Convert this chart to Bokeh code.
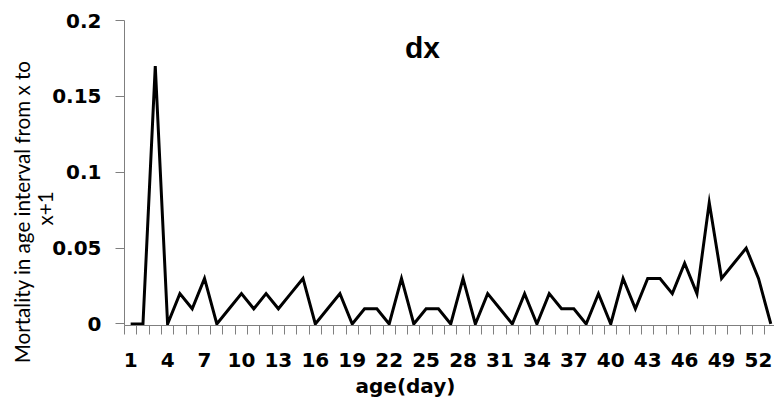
from bokeh.plotting import figure
from bokeh.models import FixedTicker, Label, Range1d, Title
from bokeh.embed import file_html
from bokeh.resources import INLINE

# ---- data ----
days = list(range(1, 54))
dx = [0, 0, 0.17, 0, 0.02, 0.01, 0.03, 0, 0.01, 0.02, 0.01, 0.02, 0.01, 0.02, 0.03,
      0, 0.01, 0.02, 0, 0.01, 0.01, 0, 0.03, 0, 0.01, 0.01, 0, 0.03, 0, 0.02,
      0.01, 0, 0.02, 0, 0.02, 0.01, 0.01, 0, 0.02, 0, 0.03, 0.01, 0.03, 0.03,
      0.02, 0.04, 0.02, 0.08, 0.03, 0.04, 0.05, 0.03, 0]
x_tick_days = [1, 4, 7, 10, 13, 16, 19, 22, 25, 28, 31, 34, 37, 40, 43, 46, 49, 52]
y_ticks = [0, 0.05, 0.1, 0.15, 0.2]
y_tick_labels = ["0", "0.05", "0.1", "0.15", "0.2"]
title_text = "dx"
x_label = "age(day)"
y_label_line1 = "Mortality in age interval from x to"
y_label_line2 = "x+1"

AXIS_COLOR = "#7f7f7f"

p = figure(width=774, height=400, output_backend="svg", toolbar_location=None,
           x_range=Range1d(0.5, 53.3), y_range=Range1d(-0.001, 0.2),
           min_border_left=124, min_border_right=0, min_border_top=20,
           min_border_bottom=75)
p.outline_line_color = None
p.xgrid.grid_line_color = None
p.ygrid.grid_line_color = None
p.background_fill_color = "white"
p.border_fill_color = "white"

p.line(days, dx, line_color="black", line_width=3, line_join="miter")

# x axis
xa = p.xaxis[0]
xa.ticker = FixedTicker(ticks=x_tick_days, minor_ticks=[d - 0.5 for d in days] + [days[-1] + 0.5])
xa.major_tick_out = 0
xa.major_tick_in = 0
xa.minor_tick_out = 9
xa.minor_tick_in = 0
xa.minor_tick_line_color = AXIS_COLOR
xa.axis_line_color = AXIS_COLOR
xa.major_label_standoff = 18
xa.major_label_text_font = "DejaVu Sans"
xa.major_label_text_font_style = "bold"
xa.major_label_text_font_size = "20px"
xa.major_label_text_color = "black"

# y axis
ya = p.yaxis[0]
ya.ticker = FixedTicker(ticks=y_ticks, minor_ticks=[])
ya.major_label_overrides = {t: l for t, l in zip(y_ticks, y_tick_labels)}
ya.major_tick_out = 9
ya.major_tick_in = 0
ya.major_tick_line_color = AXIS_COLOR
ya.axis_line_color = AXIS_COLOR
ya.major_label_standoff = 14
ya.major_label_text_font = "DejaVu Sans"
ya.major_label_text_font_style = "bold"
ya.major_label_text_font_size = "20px"
ya.major_label_text_color = "black"

# chart title inside the plot area
p.add_layout(Label(x=298, y=278, x_units="screen", y_units="screen", text=title_text,
                   text_align="center", text_baseline="alphabetic",
                   text_font="Liberation Sans", text_font_style="bold",
                   text_font_size="30px", text_color="black"))

# x axis label (title below, placed from the frame's left edge)
p.add_layout(Title(text=x_label, align="left", offset=231, standoff=4,
                   text_font="DejaVu Sans", text_font_style="bold",
                   text_font_size="20px", text_color="black"), "below")

# y axis label, two lines (titles on the left)
p.add_layout(Title(text=y_label_line2, align="left", offset=100, standoff=-14,
                   text_font="Lato", text_font_style="normal",
                   text_font_size="20.6px", text_color="black"), "left")
p.add_layout(Title(text=y_label_line1, align="right", offset=40, standoff=7,
                   text_font="Lato", text_font_style="normal",
                   text_font_size="20.6px", text_color="black"), "left")

open("out.html", "w").write(file_html(p, INLINE))
